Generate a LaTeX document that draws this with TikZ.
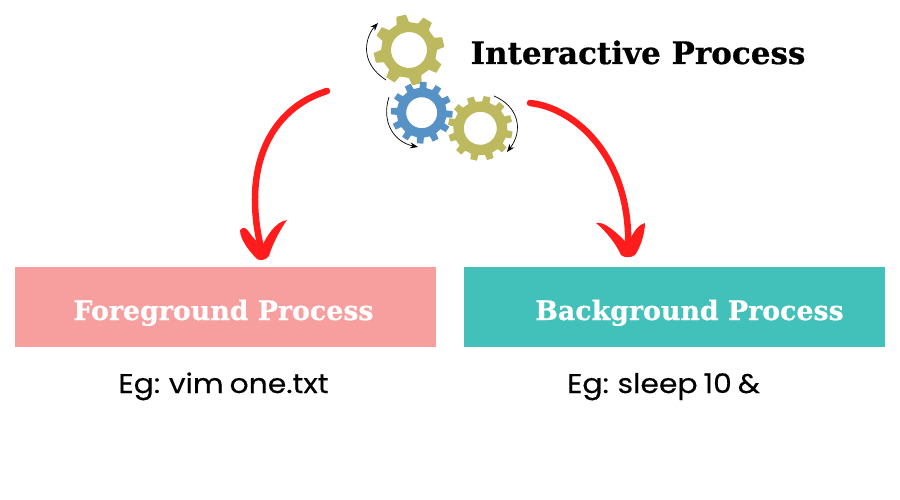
\documentclass[tikz,border=0pt]{standalone}
\usepackage{fontspec}
\setmainfont[BoldFeatures={FakeBold=0.6}]{DejaVu Serif}
\newfontfamily\egfont[FakeStretch=1.105,FakeBold=0.3,WordSpace=0.75]{Poppins}
\usetikzlibrary{arrows.meta}
\definecolor{olivegear}{HTML}{BDB95F}
\definecolor{bluegear}{HTML}{5692C5}
\definecolor{redarrow}{HTML}{FF1C1C}
\definecolor{pinkbox}{HTML}{F79F9F}
\definecolor{tealbox}{HTML}{41C1BA}
\tikzset{
  x=1pt,y=-1pt,
  procbox/.style={minimum width=421pt,minimum height=80pt,inner sep=0pt,anchor=north west},
  boxlabel/.style={text=white,font=\fontsize{26.8}{30}\selectfont\bfseries,inner sep=0pt,anchor=base},
  eglabel/.style={text=black,font=\egfont\fontsize{27}{32}\selectfont,inner sep=0pt,anchor=base},
  titlelabel/.style={text=black,font=\fontsize{31}{36}\selectfont\bfseries,inner sep=0pt,anchor=base},
  redshaft/.style={draw=redarrow,line width=6.5pt,line cap=round},
  spin/.style={draw=black,line width=0.7pt,-{Stealth[length=8pt,width=6pt]}}
}
% centre x, centre y, hole r, ring r, tooth r, teeth, offset, half angle base, half angle top, colour
\newcommand{\gearshape}[9]{%
  \pgfmathsetmacro{\gstep}{360/#6}%
  \pgfmathtruncatemacro{\glast}{#6-1}%
  \begin{scope}[shift={(#1,#2)}]
    \fill[#9,even odd rule]
      (#7-#8:#4)
      \foreach \gi in {0,...,\glast}{
        -- ({#7+\gi*\gstep-#8}:#4)
        -- ({#7+\gi*\gstep-\gtop}:#5)
        -- ({#7+\gi*\gstep+\gtop}:#5)
        -- ({#7+\gi*\gstep+#8}:#4)
      } -- cycle
      (0,0) circle[radius=#3];
  \end{scope}%
}
\begin{document}
\begin{tikzpicture}
\useasboundingbox (0,0) rectangle (900,500);
\fill[white] (0,0) rectangle (900,500);
\node[procbox,fill=pinkbox] (fg) at (15,267) {};
\node[procbox,fill=tealbox] (bg) at (464,267) {};
\node[boxlabel] (fgt) at (223.5,320) {Foreground Process};
\node[boxlabel] (bgt) at (689.5,320) {Background Process};
\node[eglabel] (fge) at (223.5,393) {Eg: vim one.txt};
\node[eglabel] (bge) at (663.5,393) {Eg: sleep 10 \&};
\node[titlelabel] (title) at (638,64) {Interactive Process};
% gears
\def\gtop{8}
\gearshape{409}{50}{18}{28}{35.5}{8}{-103}{13}{{olivegear}}
\def\gtop{6}
\gearshape{421.7}{112.7}{15.5}{25}{31}{12}{-87}{8}{{bluegear}}
\gearshape{480.3}{128.3}{16.5}{27}{32.5}{12}{-78}{8}{{olivegear}}
% small rotation arrows
\coordinate (s1a) at (386,80); \coordinate (s1b) at (378,23);
\coordinate (s2a) at (389,97); \coordinate (s2b) at (418,147);
\coordinate (s3a) at (494,96); \coordinate (s3b) at (507,152);
\draw[spin] (s1a) .. controls (358,62) and (366,36) .. (s1b);
\draw[spin] (s2a) .. controls (381,122) and (394,142) .. (s2b);
\draw[spin] (s3a) .. controls (518,106) and (524,130) .. (s3b);
% red arrows
\coordinate (la) at (327,91); \coordinate (lb) at (262,252);
\coordinate (ra) at (530,103); \coordinate (rb) at (628,250);
\draw[redshaft] (la) .. controls (272,108) and (240,165) .. (lb);
\draw[redshaft] (ra) .. controls (577,108) and (632,160) .. (rb);
\fill[redarrow] (240,230) .. controls (244,226) and (246,228) .. (249,232)
  .. controls (253,238) and (258,243) .. (262,246)
  .. controls (267,236) and (275,222) .. (287,220)
  .. controls (281,228) and (272,245) .. (269,256)
  .. controls (266,260) and (260,261) .. (257,259)
  .. controls (250,252) and (240,240) .. (240,230) -- cycle;
\fill[redarrow] (596,223) .. controls (604,221) and (616,232) .. (626,242)
  .. controls (632,240) and (634,226) .. (645,223)
  .. controls (645,234) and (640,248) .. (635,255)
  .. controls (631,258) and (624,258) .. (621,255)
  .. controls (616,244) and (606,231) .. (596,223) -- cycle;
\end{tikzpicture}
\end{document}
